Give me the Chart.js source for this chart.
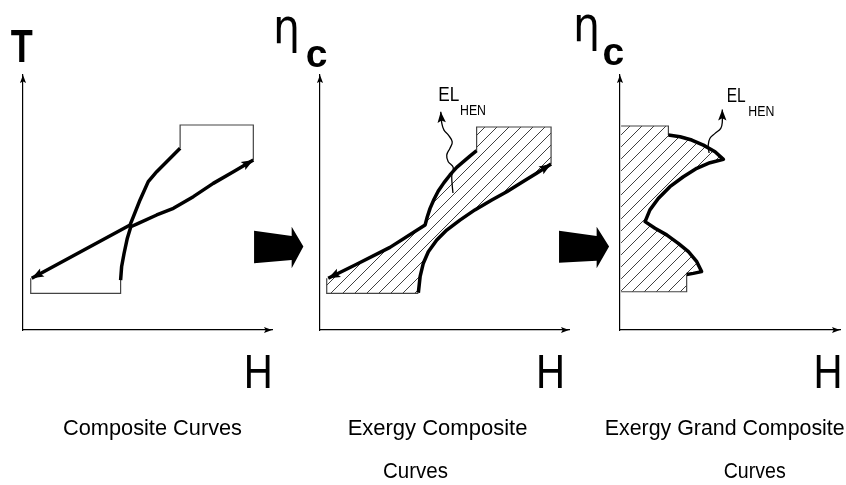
<!DOCTYPE html>
<html>
<head>
<meta charset="utf-8">
<title>Composite curves</title>
<script src="https://cdn.jsdelivr.net/npm/chart.js@4.4.1/dist/chart.umd.min.js"></script>
<style>
  html, body { margin: 0; padding: 0; background: #fff; }
  #wrap { position: relative; width: 846px; height: 485px; }
  #wrap canvas { position: absolute; left: 0; top: 0; }
</style>
</head>
<body>
<div id="wrap">
  <canvas id="cc" width="846" height="485"></canvas>
  <canvas id="ecc" width="846" height="485"></canvas>
  <canvas id="egcc" width="846" height="485"></canvas>
</div>
<script>
// All points are [H, T] (or [H, eta_c]) in percent of axis length.

// Composite curves
const hotCC = [[3.5, 20.3], [43.0, 41.2], [44.3, 44.4], [47.0, 51.0], [50.3, 58.2], [53.7, 62.1], [58.4, 66.7], [63.1, 71.3]];
const coldCC = [[39.2, 19.6], [39.6, 24.8], [40.6, 30.1], [41.9, 36.0], [43.3, 40.5], [46.3, 41.8], [53.7, 45.1],
  [60.4, 47.7], [68.4, 52.3], [76.4, 57.5], [84.5, 62.1], [92.5, 66.7]];
const hotUtilCC = [[63.1, 71.3], [63.1, 80.4], [92.5, 80.4], [92.5, 66.7]];
const coldUtilCC = [[39.2, 19.6], [39.2, 14.4], [3.1, 14.4], [3.1, 20.3]];
const stepArrow1 = [[92.8, 38.9], [107.9, 36.9], [107.9, 40.5], [112.6, 32.7], [107.9, 24.2], [107.9, 27.5], [92.8, 26.2]];

// Exergy composite curves
const hotECC = [[3.3, 20.3], [14.7, 25.8], [28.1, 32.4], [42.2, 41.2], [43.1, 44.4], [44.2, 47.7], [45.8, 51.3],
  [47.5, 54.5], [49.8, 57.8], [52.2, 60.8], [54.9, 63.8], [57.6, 66.0], [60.2, 68.2], [62.9, 70.3]];
const coldECC = [[39.5, 14.6], [40.2, 20.9], [41.5, 26.2], [43.5, 30.7], [46.9, 35.3], [50.9, 39.2], [56.2, 43.1],
  [62.2, 47.1], [69.0, 51.0], [75.0, 54.2], [81.6, 58.2], [87.0, 61.5], [92.8, 65.1]];
const hotUtilECC = [[62.9, 70.3], [62.9, 79.6], [92.8, 79.6], [92.8, 65.1]];
const coldUtilECC = [[2.7, 20.3], [2.7, 14.4], [39.5, 14.4]];
const lossArrowECC = [[53.4, 53.7], [52.9, 60.1], [53.5, 63.8], [51.5, 66.0], [50.9, 68.6], [52.2, 71.3],
  [53.1, 73.8], [51.5, 76.5], [49.8, 78.4], [48.9, 81.1], [48.5, 85.6]];
const stepArrow2 = [[96.0, 38.9], [111.1, 36.9], [111.1, 40.5], [116.1, 32.7], [111.1, 24.2], [111.1, 27.2], [96.0, 26.4]];

// Exergy grand composite curve
const egcc = [[22.0, 76.5], [27.3, 75.8], [32.6, 74.5], [37.9, 72.5], [43.2, 69.9], [47.0, 66.9],
  [40.9, 65.6], [34.9, 63.4], [28.8, 60.1], [22.7, 56.2], [17.4, 51.6], [13.6, 47.1], [11.4, 42.5],
  [15.9, 39.9], [21.2, 37.3], [26.5, 34.0], [31.1, 30.7], [34.9, 26.8], [37.1, 22.9], [33.3, 22.2], [30.3, 21.8]];
const hotUtilEGCC = [[0.5, 80.0], [22.0, 80.0], [22.0, 76.5]];
const coldUtilEGCC = [[30.3, 21.8], [30.3, 15.0], [0.5, 15.0]];
const lossArrowEGCC = [[40.5, 69.4], [40.1, 72.5], [40.9, 75.2], [43.2, 77.1], [45.8, 79.1], [46.5, 81.6], [46.5, 86.5]];

const xy = pts => pts.map(([x, y]) => ({ x, y }));

function hatchPattern() {
  const c = document.createElement('canvas');
  c.width = 12;
  c.height = 12;
  const g = c.getContext('2d');
  g.strokeStyle = '#2a2a2a';
  g.lineWidth = 0.9;
  g.beginPath();
  g.moveTo(0, 12); g.lineTo(12, 0);
  g.moveTo(-3, 3); g.lineTo(3, -3);
  g.moveTo(9, 15); g.lineTo(15, 9);
  g.stroke();
  return g.createPattern(c, 'repeat');
}
const hatch = hatchPattern();

const thick = (pts, extra) => Object.assign({
  data: xy(pts), borderColor: '#000', borderWidth: 3.5, pointRadius: 0, fill: false,
  tension: 0, borderJoinStyle: 'round', borderCapStyle: 'butt', headSize: 12
}, extra);
const thin = pts => ({ data: xy(pts), borderColor: '#444', borderWidth: 1.2, pointRadius: 0, fill: false });
const wavy = pts => ({ data: xy(pts), borderColor: '#000', borderWidth: 1.3, pointRadius: 0, fill: false,
  tension: 0.4, headAtEnd: true, headSize: 11 });
const hatched = pts => ({ data: xy(pts), borderColor: 'rgba(0,0,0,0)', borderWidth: 0, pointRadius: 0,
  fill: 'shape', backgroundColor: hatch, clip: false });

function head(ctx, from, to, size) {
  const a = Math.atan2(to.y - from.y, to.x - from.x);
  const w = size * 0.38;
  ctx.save();
  ctx.translate(to.x, to.y);
  ctx.rotate(a);
  ctx.beginPath();
  ctx.moveTo(0, 0);
  ctx.lineTo(-size, -w);
  ctx.lineTo(-size * 0.8, 0);
  ctx.lineTo(-size, w);
  ctx.closePath();
  ctx.fillStyle = '#000';
  ctx.fill();
  ctx.restore();
}

// arrowheads, axis arrows, block arrow and text for one panel
function decor(cfg) {
  return {
    id: 'decor',
    afterDatasetsDraw(chart) {
      const ctx = chart.ctx;
      chart.data.datasets.forEach((ds, i) => {
        const pts = chart.getDatasetMeta(i).data;
        if (ds.headAtEnd) head(ctx, pts[pts.length - 2], pts[pts.length - 1], ds.headSize);
        if (ds.headAtStart) head(ctx, pts[1], pts[0], ds.headSize);
      });
      if (cfg.step) {
        const sx = chart.scales.x, sy = chart.scales.y;
        ctx.save();
        ctx.beginPath();
        cfg.step.forEach(([x, y], k) => {
          const px = sx.getPixelForValue(x), py = sy.getPixelForValue(y);
          if (k) ctx.lineTo(px, py); else ctx.moveTo(px, py);
        });
        ctx.closePath();
        ctx.fillStyle = '#000';
        ctx.fill();
        ctx.restore();
      }
    },
    afterDraw(chart) {
      const ctx = chart.ctx;
      const { left, right, top, bottom } = chart.chartArea;
      head(ctx, { x: left, y: top + 10 }, { x: left, y: top }, 8);
      head(ctx, { x: right - 10, y: bottom }, { x: right, y: bottom }, 8);
      ctx.save();
      ctx.fillStyle = '#000';
      ctx.textBaseline = 'alphabetic';
      cfg.labels.forEach(l => {
        ctx.font = l.font;
        ctx.textAlign = l.align || 'center';
        ctx.fillText(l.text, l.x, l.y, l.w);
      });
      ctx.restore();
    }
  };
}

function panel(id, pad, datasets, cfg) {
  const axis = {
    type: 'linear', min: 0, max: 100,
    ticks: { display: false },
    grid: { display: false },
    border: { display: true, color: '#000', width: 1.2 }
  };
  return new Chart(document.getElementById(id), {
    type: 'line',
    data: { datasets },
    options: {
      responsive: false,
      animation: false,
      events: [],
      layout: { padding: pad },
      plugins: { legend: { display: false }, tooltip: { enabled: false } },
      scales: {
        x: Object.assign({}, axis, { afterFit: s => { s.height = 0; } }),
        y: Object.assign({}, axis, { afterFit: s => { s.width = 0; } })
      }
    },
    plugins: [decor(cfg)]
  });
}

const axisFont = '48px "Liberation Sans", Arial, sans-serif';
const captionFont = '22px "Liberation Sans", Arial, sans-serif';
const etaFont = '48px "DejaVu Sans", sans-serif';
const subFont = 'bold 39px "Liberation Sans", Arial, sans-serif';
const elFont = '20px "Liberation Sans", Arial, sans-serif';
const henFont = '14px "Liberation Sans", Arial, sans-serif';

panel('cc', { left: 23, top: 75, right: 574, bottom: 155 }, [
  thick(hotCC, { headAtStart: true }),
  thick(coldCC, { headAtEnd: true }),
  thin(hotUtilCC),
  thin(coldUtilCC)
], {
  step: stepArrow1,
  labels: [
    { text: 'T', x: 21.7, y: 61.7, w: 22, font: 'bold 46px "Liberation Sans", Arial, sans-serif' },
    { text: 'H', x: 258.3, y: 388, w: 29, font: axisFont },
    { text: 'Composite Curves', x: 152.5, y: 435, w: 179, font: captionFont }
  ]
});

panel('ecc', { left: 320, top: 75, right: 277, bottom: 155 }, [
  thick(hotECC, { headAtStart: true }),
  thick(coldECC, { headAtEnd: true }),
  wavy(lossArrowECC),
  thin(hotUtilECC),
  thin(coldUtilECC),
  hatched(coldUtilECC.slice(1).concat(coldECC, hotUtilECC.slice(1).reverse(), hotECC.slice().reverse(), [coldUtilECC[0]]))
], {
  step: stepArrow2,
  labels: [
    { text: 'η', x: 286.5, y: 43, w: 27, font: etaFont },
    { text: 'c', x: 316.5, y: 66.5, w: 24, font: subFont },
    { text: 'H', x: 550.5, y: 388, w: 29, font: axisFont },
    { text: 'Exergy Composite', x: 437.5, y: 435, w: 185, font: captionFont },
    { text: 'Curves', x: 415.5, y: 478, w: 65, font: captionFont },
    { text: 'EL', x: 438.3, y: 100.7, w: 21, font: elFont, align: 'left' },
    { text: 'HEN', x: 460, y: 115, w: 26, font: henFont, align: 'left' }
  ]
});

panel('egcc', { left: 620, top: 75, right: 6, bottom: 155 }, [
  thick(egcc),
  wavy(lossArrowEGCC),
  thin(hotUtilEGCC),
  thin(coldUtilEGCC),
  hatched(hotUtilEGCC.concat(egcc.slice(1), coldUtilEGCC.slice(1)))
], {
  labels: [
    { text: 'η', x: 586.5, y: 41, w: 27, font: etaFont },
    { text: 'c', x: 613.3, y: 65, w: 24, font: subFont },
    { text: 'H', x: 828, y: 388, w: 29, font: axisFont },
    { text: 'Exergy Grand Composite', x: 724.7, y: 435, w: 240, font: captionFont },
    { text: 'Curves', x: 754.7, y: 478, w: 62, font: captionFont },
    { text: 'EL', x: 726.7, y: 101.7, w: 19, font: elFont, align: 'left' },
    { text: 'HEN', x: 748.3, y: 116, w: 26, font: henFont, align: 'left' }
  ]
});
</script>
</body>
</html>
